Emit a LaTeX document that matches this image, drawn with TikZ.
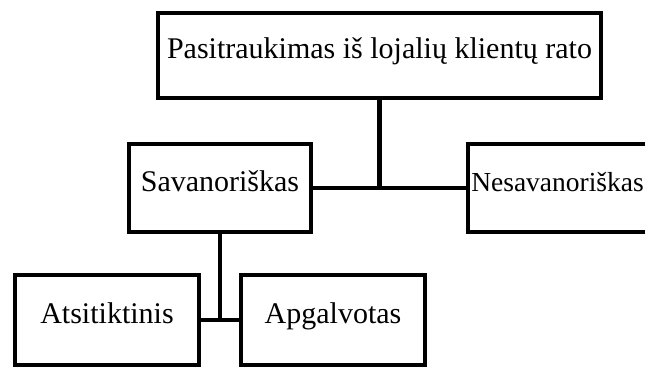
\documentclass[tikz,border=0pt]{standalone}
\usepackage{fontspec}
\setmainfont{Liberation Serif}
\begin{document}
\begin{tikzpicture}[x=1pt,y=-1pt,
  box/.style={draw=black, line width=4.5pt, fill=white, inner sep=0pt,
    text height=0.66em, text depth=0pt,
    font=\fontsize{30}{34}\selectfont},
  conn/.style={draw=black, line width=4.5pt}]
\useasboundingbox (0,0) rectangle (645,369);
\begin{scope}
\clip (0,0) rectangle (645,369);
\node[box, minimum width=443pt, minimum height=85pt] (top) at (379.5,55.5) {Pasitraukimas iš lojalių klientų rato};
\node[box, minimum width=182pt, minimum height=88pt] (sav) at (220,188) {Savanoriškas};
\node[box, minimum width=182pt, minimum height=88pt] (nes) at (559,188) {};
\node[box, draw=none, fill=none, anchor=west, font=\fontsize{27.5}{32}\selectfont] (nestext) at (469,188) {Nesavanoriškas};
\node[box, minimum width=184pt, minimum height=90pt] (ats) at (107,320) {Atsitiktinis};
\node[box, minimum width=184pt, minimum height=90pt] (apg) at (333,320) {Apgalvotas};
\draw[conn] (top.south) -- (top.south |- sav.east);
\draw[conn] (sav.east) -- (nes.west);
\draw[conn] (sav.south) -- (sav.south |- ats.east);
\draw[conn, line width=3.5pt] (ats.east) -- (apg.west);
\end{scope}
\end{tikzpicture}
\end{document}
